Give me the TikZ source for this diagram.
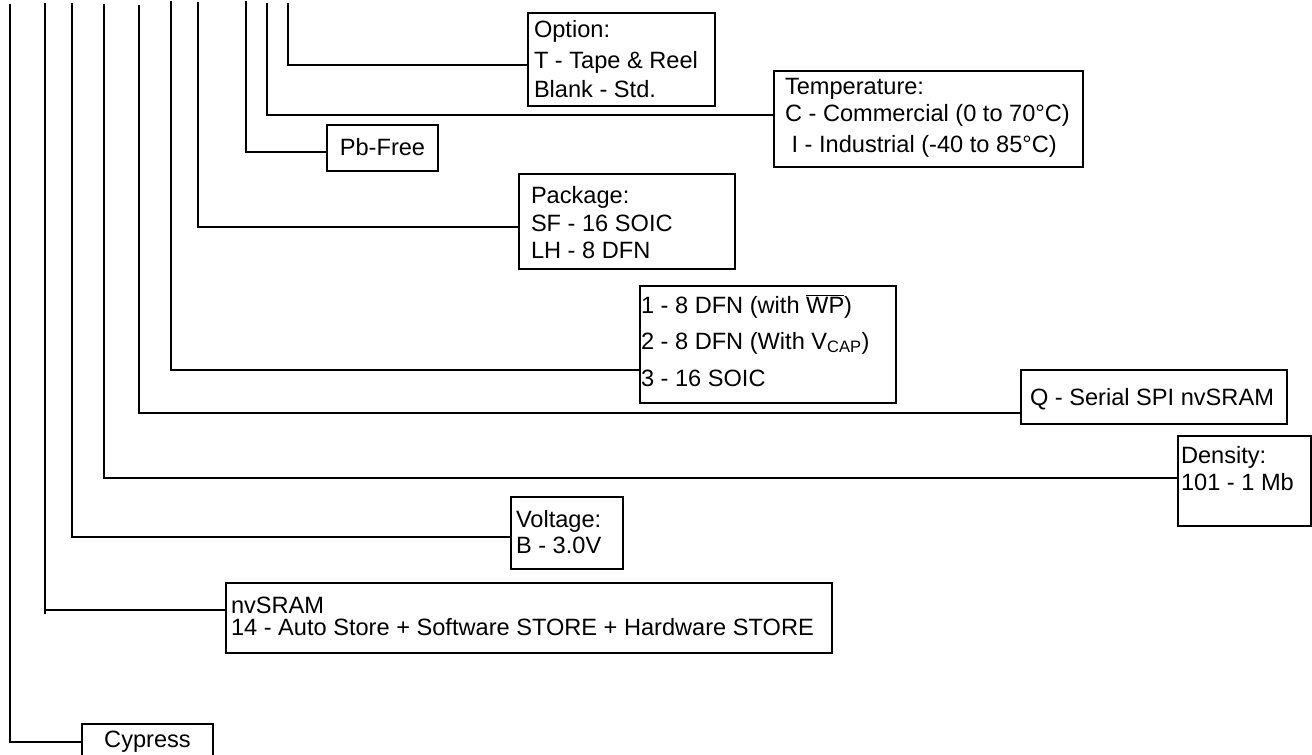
\documentclass[tikz,border=0pt]{standalone}
\usepackage{fontspec}
\setmainfont{Liberation Sans}
\tikzset{
  wire/.style={line width=1.6pt, line join=miter},
  box/.style={draw, line width=1.6pt, rectangle, inner sep=0pt, outer sep=0pt},
  txt/.style={anchor=base west, inner sep=0pt, outer sep=0pt, font=\fontsize{23.6}{28}\selectfont},
}
\begin{document}
\begin{tikzpicture}[x=1pt,y=-1pt]
\clip (0,0) rectangle (1312,755);
\fill[white] (0,0) rectangle (1312,755);

% boxes
\node[box, minimum width=187pt, minimum height=93pt] (opt) at (621.5,59.5) {};
\node[box, minimum width=309pt, minimum height=96pt] (tmp) at (928.5,119) {};
\node[box, minimum width=111pt, minimum height=46pt] (pb) at (382.5,148) {};
\node[box, minimum width=216pt, minimum height=95pt] (pkg) at (627,221.5) {};
\node[box, minimum width=256pt, minimum height=117pt] (dfn) at (768,344.5) {};
\node[box, minimum width=266pt, minimum height=54pt] (q) at (1154,397) {};
\node[box, minimum width=133pt, minimum height=90pt] (dens) at (1244.5,481) {};
\node[box, minimum width=112pt, minimum height=72pt] (volt) at (567,533) {};
\node[box, minimum width=606pt, minimum height=70pt] (nv) at (529,618) {};
\node[box, minimum width=131pt, minimum height=46pt] (cyp) at (147.5,747) {};

% texts
\node[txt] (opt1) at (534,37) {Option:};
\node[txt] (opt2) at (534,68) {T - Tape \& Reel};
\node[txt] (opt3) at (534,97) {Blank - Std.};
\node[txt] (tmp1) at (785,94) {Temperature:};
\node[txt] (tmp2) at (785,121) {C - Commercial (0 to 70°C)};
\node[txt] (tmp3) at (785,152) {\ I - Industrial (-40 to 85°C)};
\node[txt, anchor=base] (pb1) at (382.5,155) {Pb-Free};
\node[txt] (pk1) at (531,203) {Package:};
\node[txt] (pk2) at (531,231) {SF - 16 SOIC};
\node[txt] (pk3) at (531,258) {LH - 8 DFN};
\node[txt] (df1) at (641,313) {1 - 8 DFN (with \(\overline{\mbox{WP}}\))};
\node[txt] (df2) at (641,349) {2 - 8 DFN (With V\textsubscript{CAP})};
\node[txt] (df3) at (641,386) {3 - 16 SOIC};
\node[txt] (q1) at (1030,405) {Q - Serial SPI nvSRAM};
\node[txt] (de1) at (1181,463) {Density:};
\node[txt] (de2) at (1181,490) {101 - 1 Mb};
\node[txt] (vo1) at (516,527) {Voltage:};
\node[txt] (vo2) at (516,553) {B - 3.0V};
\node[txt] (nv1) at (231,613) {nvSRAM};
\node[txt] (nv2) at (231,635) {14 - Auto Store + Software STORE + Hardware STORE};
\node[txt, anchor=base] (cy1) at (147.5,747) {Cypress};

% tops of the vertical lines
\coordinate (t1) at (10,4);
\coordinate (t2) at (45,3);
\coordinate (t3) at (72,3);
\coordinate (t4) at (104,4);
\coordinate (t5) at (139,5);
\coordinate (t6) at (171,1);
\coordinate (t7) at (198,2);
\coordinate (t8) at (246,1);
\coordinate (t9) at (267,3);
\coordinate (t10) at (288,3);
\coordinate (e2) at (45,614);

% connectors
\draw[wire] (t10) |- (opt.west |- 0,65);
\draw[wire] (t9) |- (tmp.west |- 0,115);
\draw[wire] (t8) |- (pb.west |- 0,152);
\draw[wire] (t7) |- (pkg.west |- 0,227);
\draw[wire] (t6) |- (dfn.west |- 0,370);
\draw[wire] (t5) |- (q.west |- 0,413);
\draw[wire] (t4) |- (dens.west |- 0,478);
\draw[wire] (t3) |- (volt.west |- 0,537);
\draw[wire] (t2) -- (e2);
\draw[wire] (e2 |- 0,610) -- (nv.west |- 0,610);
\draw[wire] (t1) |- (cyp.west |- 0,742);
\end{tikzpicture}
\end{document}
